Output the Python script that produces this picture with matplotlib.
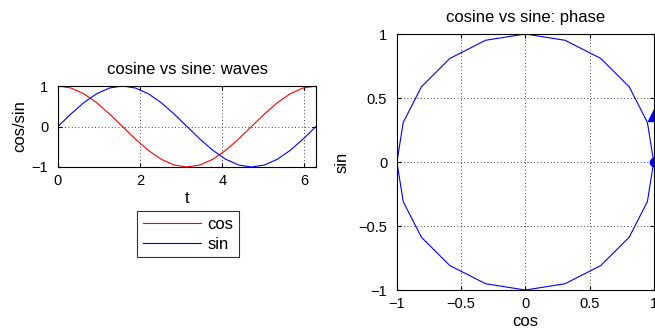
import numpy as np
import matplotlib
matplotlib.use('Agg')
from matplotlib import pyplot as plt

plt.rcParams['font.family'] = ['Liberation Sans', 'DejaVu Sans']
plt.rcParams['axes.unicode_minus'] = True

# 21 samples over one period (the phase plot shows 20 straight segments)
t = np.linspace(0, 2*np.pi, 21)
cos_vals = np.cos(t)
sin_vals = np.sin(t)

# start marker and the head of the direction arrow in the phase plot
start_pt = (1.0, 0.0)
arrow_pt = (1.0, 0.37)

fig = plt.figure(figsize=(6.55, 3.34), dpi=100)

def matlab_style(ax):
    ax.tick_params(direction='in', top=True, right=True, labelsize=10.5, length=3)
    ax.tick_params(axis='x', pad=5)
    ax.tick_params(axis='y', pad=7)
    ax.grid(True, color='black', linestyle=(0, (1, 3)), linewidth=0.6)
    for s in ax.spines.values():
        s.set_linewidth(0.8)

#%% waves
ax1 = fig.add_axes([0.0885, 0.5, 0.394, 0.2425])
ax1.plot(t, cos_vals, 'r-', linewidth=0.8, label='cos')
ax1.plot(t, sin_vals, 'b-', linewidth=0.8, label='sin')
ax1.set_xlim(0, 2*np.pi)
ax1.set_ylim(-1, 1)
ax1.set_xticks([0, 2, 4, 6])
ax1.set_yticks([-1, 0, 1])
ax1.set_xlabel('t', fontsize=12, labelpad=2)
ax1.set_ylabel('cos/sin', fontsize=12, labelpad=3)
ax1.set_title('cosine vs sine: waves', fontsize=12, pad=9)
matlab_style(ax1)
leg = ax1.legend(loc='upper center', bbox_to_anchor=(0.504, -0.54), fontsize=12,
                 frameon=True, fancybox=False, edgecolor='black', handlelength=3.5,
                 borderpad=0.35, labelspacing=0.3, handletextpad=0.4,
                 borderaxespad=0)
leg.get_frame().set_linewidth(0.8)

#%% phase
ax2 = fig.add_axes([0.606, 0.1317, 0.392, 0.7665])
ax2.plot(cos_vals, sin_vals, 'b-', linewidth=0.8)
ax2.plot(start_pt[0], start_pt[1], 'bo', markersize=6)
ax2.plot(arrow_pt[0], arrow_pt[1], 'b^', markersize=8)
ax2.set_xlim(-1, 1)
ax2.set_ylim(-1, 1)
ax2.set_xticks([-1, -0.5, 0, 0.5, 1])
ax2.set_yticks([-1, -0.5, 0, 0.5, 1])
ax2.set_xticklabels(['\u22121', '\u22120.5', '0', '0.5', '1'])
ax2.set_yticklabels(['\u22121', '\u22120.5', '0', '0.5', '1'])
ax2.set_xlabel('cos', fontsize=12, labelpad=2)
ax2.set_ylabel('sin', fontsize=12, labelpad=6)
ax2.set_title('cosine vs sine: phase', fontsize=12, pad=9)
matlab_style(ax2)

fig.savefig('out.png', dpi=100)
